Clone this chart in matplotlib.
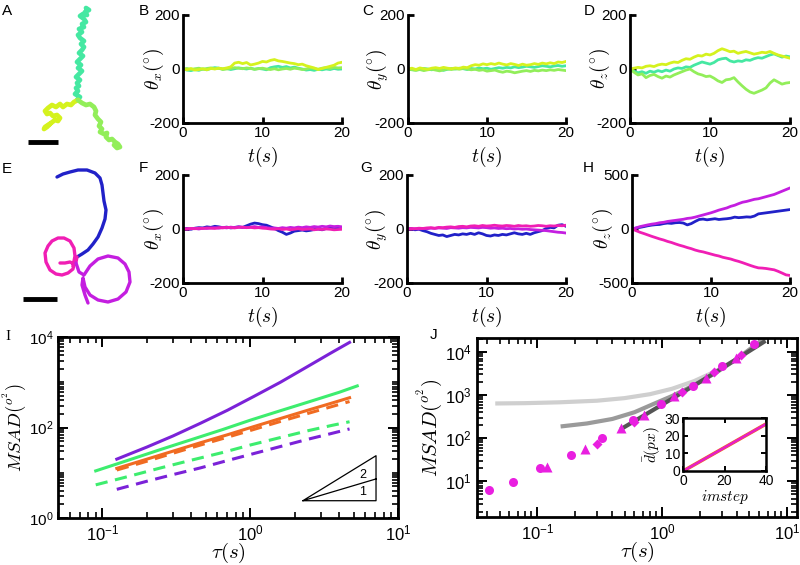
import numpy as np
import matplotlib
matplotlib.use('Agg')
import matplotlib.pyplot as plt
from matplotlib.ticker import LogLocator, FixedLocator, NullFormatter, LogFormatterSciNotation

plt.rcParams['font.family'] = ['Liberation Sans', 'DejaVu Sans']
plt.rcParams['mathtext.fontset'] = 'cm'
plt.rcParams['axes.unicode_minus'] = False

# colours
c_yel = '#d5f21e'
c_cyan = '#45e8a2'
c_lgrn = '#92ee5a'
c_blue = '#2121c8'
c_pink = '#f01eb4'
c_viol = '#c41ee0'

# ---- trajectories (image units) ----
a_top_x = [77, 80, 75, 78, 76, 79, 77, 80, 76, 79, 82, 78, 81, 77, 80, 83, 79, 82, 84, 81, 84, 80, 78, 82, 79, 84, 82, 86, 84, 80, 83, 87, 85, 89, 86]
a_top_y = [100, 97, 94, 91, 88, 86, 83, 80, 77, 74, 71, 68, 65, 62, 59, 56, 53, 50, 47, 44, 41, 38, 35, 32, 29, 27, 24, 22, 19, 16, 14, 15, 12, 10, 8]
a_left_x = [78, 74, 71, 67, 63, 60, 56, 52, 48, 45, 47, 50, 53, 57, 60, 58, 55, 51, 48, 45, 44, 47, 50]
a_left_y = [100, 102, 105, 104, 107, 104, 107, 105, 108, 111, 114, 113, 116, 115, 118, 121, 120, 123, 125, 127, 129, 127, 124]
a_right_x = [78, 82, 86, 90, 94, 96, 95, 98, 101, 99, 102, 100, 104, 107, 106, 109, 112, 115, 118, 120, 117, 114]
a_right_y = [100, 103, 105, 104, 107, 111, 115, 119, 122, 126, 129, 132, 134, 133, 137, 140, 139, 142, 144, 147, 148, 145]
bar_a_x = [28, 58]
bar_a_y = [142, 142]

e_blue_x = [57, 63, 70, 78, 87, 95, 100, 102, 103, 104, 106, 105, 102, 98, 93, 88, 82, 77]
e_blue_y = [177, 174, 172, 170, 170, 173, 178, 185, 193, 201, 210, 219, 228, 237, 244, 250, 254, 257]
e_pink_x = [77, 76, 73, 75, 74, 70, 64, 58, 52, 48, 45, 46, 50, 56, 62, 68, 73, 74, 70, 65, 60]
e_pink_y = [257, 262, 266, 256, 248, 241, 238, 238, 241, 246, 253, 262, 270, 274, 275, 273, 269, 264, 262, 263, 263]
e_viol_x = [76, 79, 84, 90, 98, 108, 118, 125, 129, 130, 126, 118, 108, 98, 90, 85, 83, 82, 85, 88]
e_viol_y = [263, 272, 275, 266, 259, 256, 258, 264, 272, 282, 292, 299, 302, 300, 295, 287, 278, 285, 295, 303]
bar_e_x = [23, 57]
bar_e_y = [299, 299]

# ---- angle traces (deg), sampled every 0.5 s from 0 to 20 s ----
bx_yel = [0, -3, 2, -4, -2, 1, -3, 2, 0, 3, 1, 4, 8, 22, 25, 20, 24, 15, 18, 22, 28, 26, 32, 35, 30, 28, 25, 22, 20, 16, 18, 12, 8, 4, -2, 2, 6, 10, 14, 22, 25]
bx_cyan = [0, -4, -6, -2, -5, 0, -3, 2, 5, 3, 0, 2, -2, 1, 4, 2, 0, 3, -1, 2, 0, -3, 5, 8, 10, 6, 9, 4, 7, 3, 0, -4, -2, -5, -1, -3, 0, -2, 2, -1, 0]
bx_lgrn = [0, 2, -2, 1, 3, -1, 2, 4, 1, 3, -2, 0, 2, 5, 3, 1, 4, 2, -1, 1, 3, 0, -2, 1, -3, 0, 2, -1, 3, 1, -2, 0, 4, 2, -1, 3, 5, 2, 6, 4, 5]

cy_yel = [0, 3, -2, 4, 1, -1, 3, 5, 2, 6, 3, 1, 4, 2, 7, 5, 12, 16, 14, 19, 16, 20, 17, 22, 18, 15, 20, 17, 13, 18, 14, 16, 20, 17, 22, 19, 23, 20, 26, 24, 28]
cy_cyan = [0, -2, -4, -1, 2, 0, -3, 1, -2, -5, -1, 2, 0, 3, 1, -2, 2, 0, 4, 1, 3, -1, 2, 5, 3, 6, 4, 8, 5, 7, 10, 8, 6, 9, 12, 10, 8, 11, 13, 10, 12]
cy_lgrn = [0, -3, -5, -2, -6, -3, -1, -4, -7, -3, 0, -2, 1, -1, 2, 0, -3, -1, -5, -3, -8, -6, -4, -9, -12, -8, -10, -14, -11, -8, -6, -9, -5, -7, -4, -6, -3, -5, -2, -4, -6]

dz_yel = [0, 3, 6, 4, 10, 12, 9, 15, 18, 16, 22, 26, 24, 32, 38, 36, 44, 50, 48, 55, 52, 58, 68, 75, 70, 64, 66, 58, 62, 65, 60, 55, 58, 62, 60, 65, 58, 52, 48, 44, 40]
dz_cyan = [0, -8, -14, -10, -16, -8, -12, -6, -10, -4, -8, 0, 4, 2, 8, 6, 14, 20, 26, 22, 18, 24, 34, 38, 40, 30, 26, 30, 28, 34, 32, 38, 42, 40, 46, 52, 56, 50, 44, 48, 45]
dz_lgrn = [0, -12, -22, -18, -32, -24, -20, -28, -34, -26, -30, -22, -16, -10, -4, 0, -10, -18, -22, -28, -26, -34, -44, -50, -40, -38, -32, -48, -62, -75, -85, -90, -84, -78, -70, -52, -40, -48, -56, -52, -50]

fx_blue = [0, 2, -1, 3, 5, 4, 8, 6, 10, 8, 5, 7, 4, 6, 8, 6, 12, 18, 22, 20, 16, 14, 8, 2, -6, -12, -20, -15, -8, -6, -4, -7, -5, -2, 0, -3, 2, 4, 6, 3, 5]
fx_pink = [0, 1, 2, 1, 3, 2, 4, 3, 2, 5, 4, 6, 5, 4, 6, 7, 5, 6, 4, 5, 3, 2, 0, -1, 1, -2, 0, -3, -1, 1, -2, -1, 0, -3, -1, -2, 0, -1, -3, -2, -1]
fx_viol = [0, -1, 1, 2, 0, 3, 2, 4, 5, 3, 6, 4, 7, 5, 8, 6, 5, 7, 9, 6, 8, 5, 3, 4, 2, 5, 3, 6, 4, 7, 5, 8, 6, 9, 7, 10, 8, 11, 9, 10, 8]

gy_blue = [0, 2, -3, -1, -6, -10, -16, -20, -24, -22, -28, -24, -20, -22, -18, -20, -16, -20, -14, -18, -24, -26, -22, -24, -20, -22, -18, -14, -18, -20, -16, -20, -14, -10, -6, 2, 6, 4, 14, 16, 10]
gy_pink = [0, 2, 1, 3, 2, 4, 5, 3, 6, 5, 7, 8, 6, 9, 10, 8, 11, 12, 10, 13, 11, 12, 14, 12, 11, 13, 12, 10, 13, 11, 12, 10, 11, 13, 12, 10, 12, 11, 13, 12, 14]
gy_viol = [0, -1, 1, 0, 2, 1, 3, 2, 4, 3, 2, 5, 4, 3, 5, 4, 6, 5, 4, 6, 5, 3, 4, 2, 3, 1, 2, 0, 1, -1, 0, -2, -3, -4, -5, -6, -8, -10, -12, -13, -15]

hz_viol = [0, 10, 22, 30, 38, 45, 50, 58, 62, 70, 75, 80, 85, 90, 98, 102, 110, 120, 130, 140, 150, 162, 175, 185, 195, 210, 220, 235, 248, 255, 265, 275, 280, 290, 300, 310, 320, 335, 350, 365, 380]
hz_blue = [0, 8, 15, 22, 30, 36, 40, 42, 50, 55, 52, 58, 60, 55, 38, 50, 70, 88, 92, 85, 90, 95, 88, 92, 95, 100, 110, 105, 108, 112, 110, 120, 140, 145, 150, 155, 160, 165, 170, 175, 180]
hz_pink = [0, -15, -30, -42, -55, -68, -80, -92, -102, -115, -125, -138, -150, -160, -172, -182, -195, -205, -212, -222, -232, -242, -250, -262, -270, -278, -290, -300, -312, -325, -338, -350, -360, -362, -366, -372, -378, -392, -408, -425, -430]

# ---- panel I: MSAD vs tau ----
tau_i = [0.125, 0.2, 0.3, 0.46, 0.7, 1.05, 1.6, 2.4, 3.5, 4.7]
tau_i_g = [0.09, 0.15, 0.25, 0.4, 0.65, 1.0, 1.6, 2.5, 4.0, 5.3]
tau_i_gd = [0.09, 0.15, 0.25, 0.4, 0.65, 1.0, 1.6, 2.5, 3.6, 4.7]
msad_purple = [20, 37, 65, 124, 240, 480, 1000, 2150, 4400, 7600]
msad_green = [11, 19, 33, 54, 90, 145, 235, 370, 600, 830]
msad_orange = [12.5, 20, 30, 46, 69, 104, 158, 236, 340, 455]
msad_orange_d = [11.5, 18, 27, 41, 61, 90, 136, 200, 285, 375]
msad_green_d = [5.4, 8.3, 12.9, 19, 28, 41, 60, 86, 112, 134]
msad_purple_d = [4.3, 6.5, 9.1, 12.8, 18.6, 26.4, 38, 54, 73, 93]
tri_x = [2.27, 7.1, 7.1, 2.27, 7.1]
tri_y = [2.41, 2.41, 23.8, 2.41, 7.3]

# ---- panel J ----
tau_lg = [0.048, 0.08, 0.15, 0.3, 0.5, 0.8, 1.2, 1.8, 2.7, 4.0, 6.5]
msad_lg = [640, 650, 680, 740, 850, 1050, 1400, 2100, 3600, 7000, 20000]
tau_mg = [0.16, 0.25, 0.4, 0.6, 0.85, 1.2, 1.8, 2.7, 4.0, 6.5]
msad_mg = [190, 220, 280, 400, 620, 950, 1700, 3300, 7000, 20000]
tau_dg = [0.48, 1.0, 2.0, 4.0, 6.5]
msad_dg = [170, 600, 2000, 7000, 17000]
circ_tau = [0.041, 0.064, 0.105, 0.185, 0.33, 0.58, 0.98, 1.75, 3.0, 5.4]
circ_msad = [6.5, 9.5, 20, 41, 100, 260, 620, 1650, 4800, 15000]
trig_tau = [0.12, 0.24, 0.47, 0.72, 1.25, 2.25, 3.9]
trig_msad = [22, 55, 170, 340, 950, 2500, 7200]
diam_tau = [0.3, 0.6, 1.45, 2.6, 4.3]
diam_msad = [75, 240, 1150, 3500, 8500]
inset_step = [1, 40]
inset_d = [0.6, 26.6]

fig = plt.figure(figsize=(8, 5.65), dpi=100)


def px_axes(l, t, r, b):
    return fig.add_axes([l / 800, 1 - b / 565, (r - l) / 800, (b - t) / 565])


def letter(x, y, s, **kw):
    fig.text(x / 800, 1 - y / 565, s, fontsize=11, va='center', ha='left', **kw)


# A and E trajectories
ax_tr = px_axes(0, 0, 140, 310)
ax_tr.set_xlim(0, 140)
ax_tr.set_ylim(310, 0)
ax_tr.axis('off')
for xs, ys, c, w in [(a_top_x, a_top_y, c_cyan, 3.4), (a_left_x, a_left_y, c_yel, 3.4), (a_right_x, a_right_y, c_lgrn, 3.4),
                     (e_blue_x, e_blue_y, c_blue, 2.4), (e_pink_x, e_pink_y, c_pink, 2.4), (e_viol_x, e_viol_y, c_viol, 2.4)]:
    ax_tr.plot(xs, ys, color=c, lw=w, solid_capstyle='round', solid_joinstyle='round')
ax_tr.plot(bar_a_x, bar_a_y, color='k', lw=3.5, solid_capstyle='butt')
ax_tr.plot(bar_e_x, bar_e_y, color='k', lw=3.5, solid_capstyle='butt')


def trace_axes(box, traces, ylim, ylabel):
    ax = px_axes(*box)
    for vals, c in traces:
        t = np.linspace(0, 20, len(vals))
        ax.plot(t, vals, color=c, lw=2)
    ax.set_xlim(0, 20)
    ax.set_ylim(-ylim, ylim)
    ax.set_xticks([0, 10, 20])
    ax.set_yticks([-ylim, 0, ylim])
    for s in ['top', 'right']:
        ax.spines[s].set_visible(False)
    for s in ['left', 'bottom']:
        ax.spines[s].set_linewidth(2)
    ax.tick_params(direction='in', length=4, width=2, labelsize=11, pad=2)
    ax.set_ylabel(ylabel, fontsize=14)
    ax.yaxis.set_label_coords(-0.11, 0.5)
    ax.set_xlabel(r'$t(s)$', fontsize=14)
    ax.xaxis.set_label_coords(0.5, -0.2)
    return ax


trace_axes((183, 15, 342, 123), [(bx_cyan, c_cyan), (bx_lgrn, c_lgrn), (bx_yel, c_yel)], 200, r'$\theta_x(^{\circ})$')
trace_axes((408, 15, 566, 123), [(cy_cyan, c_cyan), (cy_lgrn, c_lgrn), (cy_yel, c_yel)], 200, r'$\theta_y(^{\circ})$')
trace_axes((630, 15, 790, 123), [(dz_cyan, c_cyan), (dz_lgrn, c_lgrn), (dz_yel, c_yel)], 200, r'$\theta_z(^{\circ})$')
trace_axes((183, 175, 342, 283), [(fx_blue, c_blue), (fx_viol, c_viol), (fx_pink, c_pink)], 200, r'$\theta_x(^{\circ})$')
trace_axes((407, 175, 566, 283), [(gy_blue, c_blue), (gy_viol, c_viol), (gy_pink, c_pink)], 200, r'$\theta_y(^{\circ})$')
trace_axes((632, 175, 790, 283), [(hz_blue, c_blue), (hz_viol, c_viol), (hz_pink, c_pink)], 500, r'$\theta_z(^{\circ})$')


def log_box(ax):
    ax.set_xscale('log')
    ax.set_yscale('log')
    for s in ax.spines.values():
        s.set_linewidth(2)
    ax.xaxis.set_major_locator(FixedLocator([0.1, 1, 10]))
    ax.xaxis.set_major_formatter(LogFormatterSciNotation())
    ax.xaxis.set_minor_locator(LogLocator(base=10, subs=np.arange(1, 10), numticks=20))
    ax.xaxis.set_minor_formatter(NullFormatter())
    ax.yaxis.set_minor_locator(LogLocator(base=10, subs=np.arange(1, 10), numticks=20))
    ax.yaxis.set_minor_formatter(NullFormatter())
    ax.tick_params(which='both', direction='in', top=True, right=True, labelsize=12)
    ax.tick_params(which='major', length=7, width=1.4, pad=4)
    ax.tick_params(which='minor', length=4.5, width=1.2)


# panel I
ax_i = px_axes(58, 337, 398, 518)
ax_i.plot(tau_i, msad_purple, color='#7b22d8', lw=2.2)
ax_i.plot(tau_i_g, msad_green, color='#3ded6e', lw=2.2)
ax_i.plot(tau_i, msad_orange, color='#f06b22', lw=2.2)
ax_i.plot(tau_i, msad_orange_d, color='#f06b22', lw=2.2, dashes=(4, 2.5))
ax_i.plot(tau_i_gd, msad_green_d, color='#3ded6e', lw=2.2, dashes=(4, 2.5))
ax_i.plot(tau_i, msad_purple_d, color='#7b22d8', lw=2.2, dashes=(4, 2.5))
ax_i.plot(tri_x, tri_y, color='k', lw=0.9)
ax_i.text(5.78, 8.9, '2', fontsize=9, ha='center', va='center')
ax_i.text(5.78, 3.8, '1', fontsize=9, ha='center', va='center')
log_box(ax_i)
ax_i.set_xlim(0.05, 10)
ax_i.set_ylim(1, 1e4)
ax_i.yaxis.set_major_locator(FixedLocator([1, 100, 1e4]))
ax_i.yaxis.set_major_formatter(LogFormatterSciNotation())
ax_i.tick_params(axis='y', which='major', labelsize=11, pad=3)
ax_i.set_ylabel(r'$MSAD(^{o^2})$', fontsize=13.5)
ax_i.yaxis.set_label_coords(-0.088, 0.5)
ax_i.set_xlabel(r'$\tau(s)$', fontsize=15)
ax_i.xaxis.set_label_coords(0.5, -0.125)

# panel J
ax_j = px_axes(477, 338, 797, 517)
ax_j.plot(tau_lg, msad_lg, color='#cfcfcf', lw=3)
ax_j.plot(tau_mg, msad_mg, color='#9a9a9a', lw=3)
ax_j.plot(tau_dg, msad_dg, color='#555555', lw=3)
ax_j.plot(circ_tau, circ_msad, 'o', color='#e91fe0', ms=6.5, mec='none')
ax_j.plot(trig_tau, trig_msad, '^', color='#e91fe0', ms=6.5, mec='none')
ax_j.plot(diam_tau, diam_msad, 'D', color='#e91fe0', ms=5.5, mec='none')
log_box(ax_j)
ax_j.set_xlim(0.033, 12)
ax_j.set_ylim(1.5, 2.1e4)
ax_j.yaxis.set_major_locator(FixedLocator([10, 100, 1000, 1e4]))
ax_j.yaxis.set_major_formatter(LogFormatterSciNotation())
ax_j.set_ylabel(r'$MSAD(^{o^2})$', fontsize=15)
ax_j.yaxis.set_label_coords(-0.1, 0.5)
ax_j.set_xlabel(r'$\tau(s)$', fontsize=15)
ax_j.xaxis.set_label_coords(0.5, -0.125)

# inset
ax_in = px_axes(683, 418, 766, 471)
ax_in.plot(inset_step, inset_d, color='#f06b22', lw=2.6)
ax_in.plot(inset_step, inset_d, color='#e61ec8', lw=1.8)
ax_in.set_xlim(0, 40)
ax_in.set_ylim(0, 30)
ax_in.set_xticks([0, 20, 40])
ax_in.set_yticks([0, 10, 20, 30])
for s in ax_in.spines.values():
    s.set_linewidth(1.8)
ax_in.tick_params(direction='in', top=True, right=True, length=3.5, width=1.4, labelsize=10, pad=2)
ax_in.set_xlabel(r'$imstep$', fontsize=11, labelpad=0)
ax_in.set_ylabel(r'$\bar{d}(px)$', fontsize=11, labelpad=1)

# panel letters
letter(2, 11, 'A')
letter(139, 11, 'B')
letter(362, 11, 'C')
letter(584, 11, 'D')
letter(2, 169, 'E')
letter(139, 168, 'F')
letter(360, 168, 'G')
letter(583, 168, 'H')
letter(5, 337, 'I', family='Liberation Serif')
letter(430, 335, 'J')

fig.savefig('out.png', dpi=100)
